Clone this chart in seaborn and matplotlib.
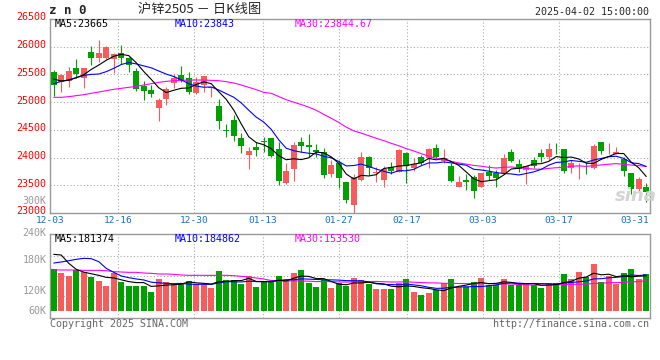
import numpy as np
import pandas as pd
import matplotlib
matplotlib.use('Agg')
import matplotlib.pyplot as plt
import matplotlib.transforms as mtransforms
import seaborn as sns

# 沪锌2505 日K数据 (2024-12-03 ~ 2025-04-02, 80 个交易日)
opens = [25550, 25369, 25381, 25622, 25441, 25898, 25802, 25802, 25784, 25886,
         25802, 25562, 25297, 25219, 24900, 25056, 25339, 25489, 25441, 25171,
         25309, 25249, 24930, 24490, 24678, 24347, 24046, 24185, 24298, 24347,
         24155, 23547, 23794, 24275, 24227, 24137, 24094, 23704, 23896, 23559,
         23145, 23595, 24016, 23716, 23595, 23824, 23746, 24088, 23818, 24010,
         23998, 24167, 23938, 23848, 23475, 23595, 23644, 23475, 23740, 23716,
         23716, 24094, 23878, 23776, 23956, 24082, 24016, 24230, 24155, 23806,
         23824, 23780, 23806, 24275, 24150, 24064, 23974, 23728, 23433, 23475]
highs = [25586, 25501, 25634, 25778, 25622, 26019, 26121, 26007, 25892, 26031,
         25814, 25610, 25381, 25309, 25081, 25279, 25501, 25652, 25550, 25459,
         25477, 25279, 25050, 24600, 24768, 24443, 24191, 24275, 24377, 24359,
         24275, 23896, 24275, 24377, 24425, 24239, 24167, 23956, 23956, 23565,
         23698, 24107, 24034, 23824, 23854, 23926, 24155, 24094, 23986, 24046,
         24167, 24245, 24155, 23896, 23668, 23698, 23686, 23728, 23866, 23776,
         24064, 24155, 23974, 23848, 24016, 24155, 24269, 24269, 24155, 23956,
         23896, 23896, 24245, 24275, 24257, 24197, 24016, 23728, 23656, 23541]
lows = [25111, 25177, 25279, 25429, 25261, 25670, 25730, 25778, 25532, 25682,
        25538, 25201, 25038, 25093, 24660, 24948, 25261, 25357, 25141, 25141,
        25177, 25093, 24515, 24377, 24299, 24076, 23794, 24034, 24107, 24016,
        23505, 23523, 23583, 24094, 24016, 24016, 23638, 23656, 23457, 23175,
        23000, 23583, 23686, 23565, 23463, 23698, 23734, 23547, 23758, 23866,
        23818, 23998, 23896, 23565, 23475, 23415, 23277, 23463, 23595, 23475,
        23698, 23926, 23734, 23529, 23818, 23926, 23956, 24070, 23716, 23716,
        23614, 23698, 23794, 24064, 24064, 24064, 23674, 23337, 23373, 23205]
closes = [25309, 25489, 25562, 25501, 25610, 25790, 25880, 25995, 25862, 25790,
          25670, 25237, 25207, 25147, 25038, 25237, 25441, 25387, 25177, 25357,
          25465, 25279, 24666, 24480, 24395, 24215, 24119, 24143, 24288, 24034,
          23583, 23758, 24227, 24215, 24197, 24100, 23686, 23866, 23626, 23235,
          23656, 24016, 23806, 23746, 23788, 23758, 24137, 23848, 23884, 23896,
          24155, 24016, 23986, 23583, 23559, 23553, 23403, 23728, 23674, 23638,
          23986, 23944, 23794, 23848, 23854, 24010, 24155, 24222, 23764, 23896,
          23836, 23772, 24209, 24125, 24158, 24107, 23764, 23433, 23614, 23373]
volumes = [216400, 195800, 180300, 209500, 199200, 175200, 154600, 128800, 194100, 151100,
           128800, 128800, 128800, 96200, 164900, 149400, 137400, 144300, 154600, 139100,
           137400, 118500, 206100, 159700, 159700, 139100, 178600, 123700, 154600, 154600,
           180300, 159700, 195800, 211300, 144300, 123700, 159700, 120200, 142600, 128800,
           171800, 159700, 139100, 113400, 113400, 113400, 142600, 164900, 97900, 82400,
           92700, 108200, 144300, 164900, 125400, 125400, 149400, 170000, 134000, 134000,
           164900, 134000, 134000, 139100, 134000, 118500, 144300, 144300, 190600, 164900,
           200900, 175200, 242200, 149400, 180300, 139100, 195800, 216400, 164900, 190600]

# 均线开头几天要用到区间之前的数据，这里直接从图上读
ma5_head = [25417, 25381, 25393, 25441]
ma10_head = [25333, 25375, 25405, 25441, 25483, 25501, 25507, 25550, 25610]
ma30_head = [25087, 25087, 25099, 25117, 25135, 25159, 25183, 25207, 25231, 25249,
             25267, 25285, 25309, 25333, 25357, 25375, 25387, 25393, 25399, 25399,
             25399, 25393, 25387, 25369, 25345, 25309, 25267, 25225, 25177]
vma5_head = [292000, 288500, 245600, 214700]
vma10_head = [247300, 252500, 259300, 266200, 271400, 269600, 254200, 219800, 199200]
vma30_head = [211300, 211300, 211300, 211300, 209500, 209500, 209500, 207800, 202700, 200900,
              199200, 199200, 195800, 194100, 190600, 190600, 188900, 185500, 183800, 183800,
              183800, 183800, 183800, 183800, 182100, 178600, 175200, 170000, 164900]

# 日期刻度 (交易日序号)
date_labels = ['12-03', '12-16', '12-30', '01-13', '01-27', '02-17', '03-03', '03-17', '03-31']
date_index = [0, 9, 19, 28, 38, 47, 57, 67, 77]

RED = '#f65c5c'
GREEN = '#00a000'
BLUE = '#0000ff'
MAGENTA = '#ff00ff'
DATE_BLUE = '#1670c8'
GRID = '#aaaaaa'
MONO = 'DejaVu Sans Mono'
FS = 7.2
LW = 0.8
W, H = 660, 360


def px_box(left, top, right, bottom):
    """像素坐标 -> figure 坐标"""
    return [left / W, 1 - bottom / H, (right - left) / W, (bottom - top) / H]


def moving_avg(series, n, head):
    ma = series.rolling(n).mean()
    ma.iloc[:len(head)] = head
    return ma


def style_axes(ax):
    for s in ax.spines.values():
        s.set_color('#999999')
        s.set_linewidth(1)
    ax.set_xlabel('')
    ax.set_ylabel('')


def draw_price(ax, df, grid_x):
    colors = np.where(df['up'], RED, GREEN)
    ax.vlines(df['x'], df['low'], df['high'], colors=colors, lw=0.8, zorder=2)
    body = (df['close'] - df['open']).abs().clip(lower=12)
    ax.bar(df['x'], body, bottom=df[['open', 'close']].min(axis=1), width=0.78,
           color=colors, lw=0, zorder=3)

    sns.lineplot(x=df['x'], y=moving_avg(df['close'], 30, ma30_head), ax=ax, color=MAGENTA, lw=LW, zorder=4)
    sns.lineplot(x=df['x'], y=moving_avg(df['close'], 10, ma10_head), ax=ax, color=BLUE, lw=LW, zorder=5)
    sns.lineplot(x=df['x'], y=moving_avg(df['close'], 5, ma5_head), ax=ax, color='black', lw=LW, zorder=6)

    ax.set_xlim(-0.5, len(df) - 0.5)
    ax.set_ylim(23000, 26500)
    ax.set_yticks(range(23000, 26501, 500))
    ax.tick_params(axis='y', length=0, pad=3, labelsize=FS, labelcolor='#ff0000')
    # 新浪的价格刻度文字略高于网格线
    shift = mtransforms.ScaledTranslation(0, 2.5 / 100, ax.figure.dpi_scale_trans)
    for lab in ax.get_yticklabels():
        lab.set_transform(lab.get_transform() + shift)
    for v in range(23500, 26001, 500):
        ax.axhline(v, color=GRID, lw=0.8, ls=(0, (1, 2)), zorder=1)
    for gx in grid_x[1:-1]:
        ax.axvline(gx, color=GRID, lw=0.8, ls=(0, (1, 2)), zorder=1)
    ax.set_xticks(grid_x, date_labels)
    ax.tick_params(axis='x', length=0, pad=2.4, labelsize=6.8, labelcolor=DATE_BLUE)
    style_axes(ax)


def draw_volume(ax, df, grid_x):
    sns.barplot(data=df, x='x', y='volume', hue='dir', palette={'up': RED, 'down': GREEN},
                width=0.78, saturation=1, dodge=False, errorbar=None, legend=False,
                linewidth=0, edgecolor='none', ax=ax, zorder=3)
    sns.lineplot(x=df['x'], y=moving_avg(df['volume'], 30, vma30_head), ax=ax, color=MAGENTA, lw=LW, zorder=4)
    sns.lineplot(x=df['x'], y=moving_avg(df['volume'], 10, vma10_head), ax=ax, color=BLUE, lw=LW, zorder=5)
    sns.lineplot(x=df['x'], y=moving_avg(df['volume'], 5, vma5_head), ax=ax, color='black', lw=LW, zorder=6)

    ax.set_xlim(-0.5, len(df) - 0.5)
    ax.set_ylim(-37600, 395200)
    ax.set_xticks([])
    ax.set_yticks([])
    for v in [77300, 180300, 284900]:
        ax.axhline(v, color=GRID, lw=0.8, ls=(0, (1, 2)), zorder=1)
    for gx in grid_x[1:-1]:
        ax.axvline(gx, color=GRID, lw=0.8, ls=(0, (1, 2)), zorder=1)
    style_axes(ax)


if __name__ == "__main__":
    sns.set_style('white')
    plt.rcParams['font.family'] = [MONO]

    df = pd.DataFrame({'open': opens, 'high': highs, 'low': lows, 'close': closes, 'volume': volumes})
    df['x'] = np.arange(len(df))
    df['up'] = df['close'] >= df['open']
    df['dir'] = np.where(df['up'], 'up', 'down')

    # 日期线不在 K 线中心，按 600/79 像素间隔分布
    n = len(df)
    grid_x = [i * n / (n - 1) - 0.5 for i in date_index]

    fig = plt.figure(figsize=(6.6, 3.6), dpi=100)
    ax_price = fig.add_axes(px_box(50, 19, 650, 213))
    ax_vol = fig.add_axes(px_box(50, 234.3, 650, 318.3))

    draw_price(ax_price, df, grid_x)
    draw_volume(ax_vol, df, grid_x)

    # 标题栏
    fig.text(49 / W, 1 - 10.5 / H, 'z n 0', weight='bold', size=9, va='center')
    fig.text(200 / W, 1 - 10 / H, '沪锌2505 － 日K线图', size=9.5, ha='center', va='center',
             family=['Noto Sans CJK SC', 'DejaVu Sans'])
    fig.text(649 / W, 1 - 12 / H, '2025-04-02 15:00:00', size=FS, ha='right', va='center')

    # 均线数值
    for x, label, c in [(55, 'MA5:23665', 'black'), (175, 'MA10:23843', BLUE), (295, 'MA30:23844.67', MAGENTA)]:
        fig.text(x / W, 1 - 24 / H, label, size=FS, color=c, va='center')
    for x, label, c in [(55, 'MA5:181374', 'black'), (175, 'MA10:184862', BLUE), (295, 'MA30:153530', MAGENTA)]:
        fig.text(x / W, 1 - 239 / H, label, size=FS, color=c, va='center')

    # 成交量刻度 (新浪图上的位置)
    for y, label in [(200.7, '300K'), (233, '240K'), (260, '180K'), (291, '120K'), (311, '60K')]:
        fig.text(46.7 / W, 1 - y / H, label, size=FS, color='#999999', ha='right', va='center')

    fig.text(636 / W, 1 - 196 / H, 'sina', size=13, color='#d4d4d4', style='italic', weight='bold',
             ha='center', va='center', family='DejaVu Sans')
    fig.text(50 / W, 1 - 324 / H, 'Copyright 2025 SINA.COM', size=FS, color='#666666', va='center')
    fig.text(649 / W, 1 - 324 / H, 'http://finance.sina.com.cn', size=FS, color='#666666', ha='right', va='center')

    fig.savefig('out.png', dpi=100)
    print("saved out.png")
